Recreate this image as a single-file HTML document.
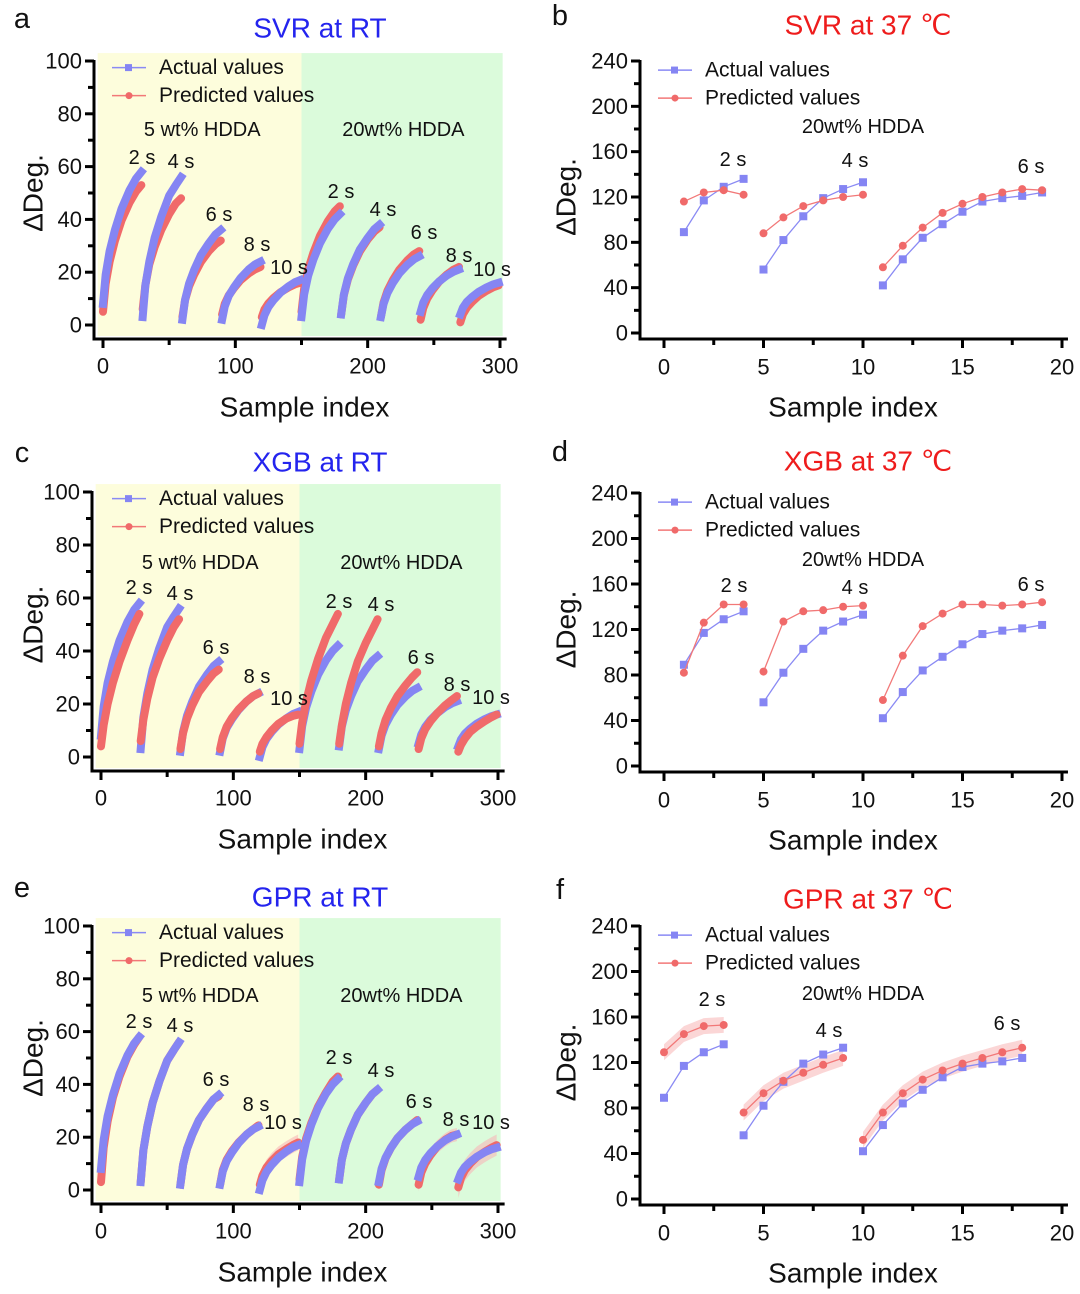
<!DOCTYPE html>
<html><head><meta charset="utf-8"><style>
body{margin:0;background:#fff}
svg{display:block;font-family:"Liberation Sans",sans-serif}
</style></head><body>
<svg id="fig" width="1080" height="1294" viewBox="0 0 1080 1294" xmlns="http://www.w3.org/2000/svg"></svg>
<script>
// ---- Left panels (RT) data: 10 segments, keypoint offsets within each 30-sample segment
const segOffsets = [0,2,5,9,14,20,25,29];
const actualRT = [
 [8,19,28,36,44,51,55.5,58],[3,15,24,33,41,49,53,56],[2,9.5,15.6,21,26.5,31,34.3,36],
 [2,7,11,14.3,17.8,21,23,24],[0,3.7,6.8,9.5,12.2,14.6,16.2,17],[3,11.6,18.6,24.8,31,36.5,40,42],
 [4,11.5,17.6,23,28.5,33,36.3,38],[3,8,12.2,15.9,19.6,22.8,24.9,26],[5,8.5,11.4,14,16.5,18.8,20.2,21],
 [4,6.6,8.8,10.7,12.6,14.3,15.4,16]];
const svrPredRT = [
 [5,15.6,24,31.9,39.6,46.3,50.6,53],[6,15,23,29.5,36,42,46,48],[3,9.4,14.6,19.2,23.9,28,30.6,32],
 [4,8,11.2,14,17,19.5,21.1,22],[3,5.9,8.2,10.3,12.4,14.2,15.4,16],[5,13.8,21,27.4,33.8,39.4,43,45],
 [4,11.3,17.2,22.5,27.8,32.4,35.4,37],[3,8.5,13,17,21,24.5,26.8,28],[2,6.4,10,13.2,16.4,19.2,21,22],
 [1,4.1,6.6,8.8,11.1,13,14.3,15]];
const xgbPredRT = [
 [4,12,20,28,36,44,50,54],[6,14,22,30,37,44,49,52],[3,9,14.5,19.5,24.5,28.5,31.5,33],
 [3,7.5,11.5,14.8,18,21,23,24],[2,5,7.5,10,12.5,14.5,15.5,16],[5,13,21,29,37,45,50,54],
 [5,12,20,28,36,43,48,52],[4,9,14,18.5,23,27,30,32],[3,7,10.5,13.5,16.5,19.5,21.5,23],
 [2,4.5,7,9.5,11.5,13.5,15,16]];
const gprPredRT = [
 [3,16,26,35,43,50.5,55,58],[3,15,24,33,41,49,53,56],[2,9.5,15.6,21,26.5,31,34.3,35.5],
 [2,7.5,11.5,14.8,18,21,23,24.5],[2,5.5,8.5,11,13.5,15.5,17,18],[4,12.5,19.5,25.5,31.5,37,41,43],
 [4,11.5,17.6,23,28.5,33,36.3,38],[2,7.5,12,15.9,19.6,22.8,24.9,26.5],[2,6.5,10,13.2,16.4,19,20.5,21],
 [1,4.5,7.5,10,12.5,14.5,16,17]];
const gprBandRT = [1,1,1,1.5,3,1,1,1.5,2.5,4];
const xTicksRT = [0,100,200,300];
const yTicksRT = [0,20,40,60,80,100];

// ---- Right panels (37 °C) data
const xIdx37 = [[1,2,3,4],[5,6,7,8,9,10],[11,12,13,14,15,16,17,18,19]];
const xIdxGpr37 = [[0,1,2,3],[4,5,6,7,8,9],[10,11,12,13,14,15,16,17,18]];
const actual37 = [[89,117,129,136],[56,82,103,119,127,133],[42,65,84,96,107,116,119,121,124]];
const svrPred37 = [[116,124,126,122],[88,102,112,117,120,122],[58,77,93,106,114,120,124,127,126]];
const xgbPred37 = [[82,126,142,142],[83,127,136,137,140,141],[58,97,123,134,142,142,141,142,144]];
const gprPred37 = [[129,145,152,153],[76,93,104,111,118,124],[52,76,93,105,113,119,124,129,133]];
const gprBand37 = 7;
const xTicks37 = [0,5,10,15,20];
const yTicks37 = [0,40,80,120,160,200,240];

const NS="http://www.w3.org/2000/svg";
const fig=document.getElementById('fig');
function mk(tag,attrs,parent,txt){const e=document.createElementNS(NS,tag);for(const k in attrs)e.setAttribute(k,attrs[k]);if(txt!==undefined)e.textContent=txt;(parent||fig).appendChild(e);return e;}
const BLUE='#8a8af4', RED='#f27878', BLUEM='#8585f3', REDM='#f06a6a';

function text(g,x,y,s,size,extra){
  return mk('text',Object.assign({x:x,y:y,'font-size':size,'text-anchor':'middle','dominant-baseline':'central',fill:'#111'},extra||{}),g,s);
}
function legend(g,x,y){
  const l1=mk('g',{},g);
  
  
  mk('line',{x1:x,y1:y,x2:x+34,y2:y,stroke:BLUE,'stroke-width':1.5},l1);
  mk('rect',{x:x+13,y:y-3.5,width:7,height:7,fill:BLUEM},l1);
  text(l1,x+47,y,'Actual values',21,{'text-anchor':'start'});
  const l2=mk('g',{},g);
  
  
  mk('line',{x1:x,y1:y+28,x2:x+34,y2:y+28,stroke:RED,'stroke-width':1.5},l2);
  mk('circle',{cx:x+17,cy:y+28,r:3.5,fill:REDM},l2);
  text(l2,x+47,y+28,'Predicted values',21,{'text-anchor':'start'});
}

function leftPanel(o){
  const g=mk('g',{});  
  const X=v=>o.x0+(v/300)*(o.x300-o.x0), Y=v=>o.y0-(v/100)*(o.y0-o.y100);
  const bg=mk('g',{},g);  
  mk('rect',{x:X(-4),y:Y(103),width:X(150)-X(-4),height:o.axY-3-Y(103),fill:'#fdfddc'},bg);
  mk('rect',{x:X(150),y:Y(103),width:X(302)-X(150),height:o.axY-3-Y(103),fill:'#dbfbdb'},bg);
  if(o.band){
    o.pred.forEach((seg,i)=>{
      let up=seg.map((v,j)=>X(i*30+segOffsets[j])+','+Y(v+o.band[i]));
      let dn=seg.map((v,j)=>X(i*30+segOffsets[j])+','+Y(v-o.band[i])).reverse();
      const p=mk('polygon',{points:up.concat(dn).join(' '),fill:'#f7b8b8','fill-opacity':0.6},g);
      
      
    });
  }
  const drawS=(data,col,nm)=>{
    data.forEach((seg,i)=>{
      const pts=seg.map((v,j)=>X(i*30+segOffsets[j])+','+Y(v)).join(' ');
      const pl=mk('polyline',{points:pts,fill:'none',stroke:col,'stroke-width':8,'stroke-linecap':nm=='actual'?'square':'round','stroke-linejoin':'round'},g);
      
      
    });
  };
  if(o.predTop){drawS(o.actual,BLUEM,'actual');drawS(o.pred,REDM,'predicted');}
  else{drawS(o.pred,REDM,'predicted');drawS(o.actual,BLUEM,'actual');}
  const ax=mk('g',{stroke:'#000','stroke-width':3},g);  
  mk('line',{x1:o.axX,y1:Y(100)-1,x2:o.axX,y2:o.axY+1.5},ax);
  mk('line',{x1:o.axX-1.5,y1:o.axY,x2:X(305),y2:o.axY},ax);
  for(let v=0;v<=100;v+=10){mk('line',{x1:o.axX-(v%20==0?9:6),y1:Y(v),x2:o.axX,y2:Y(v)},ax);}
  for(let v=0;v<=300;v+=50){mk('line',{x1:X(v),y1:o.axY,x2:X(v),y2:o.axY+(v%100==0?9:6)},ax);}
  yTicksRT.forEach(v=>{const t=text(g,o.axX-12,Y(v),String(v),22,{'text-anchor':'end'});});
  xTicksRT.forEach(v=>{const t=text(g,X(v),o.axY+27,String(v),22);});
  const xt=text(g,(o.x0+o.x300)/2+3,o.axY+68,'Sample index',28);  
  const yt=text(g,0,0,'ΔDeg.',28,{transform:`translate(33,${(o.y0+o.y100)/2}) rotate(-90)`});  
  const tt=text(g,o.titleX,o.titleY,o.title,28,{fill:'#2424ee'});  
  const lt=text(g,22,o.titleY-9,o.letter,29);  
  legend(g,112,Y(97.5));
  const h1=text(g,X(75),o.hy,'5 wt% HDDA',20); 
  const h2=text(g,X(227),o.hy,'20wt% HDDA',20); 
  o.labels.forEach(l=>{const t=text(g,l[0],l[1],l[2],20);});
}

function rightPanel(o){
  const g=mk('g',{});  
  const X=v=>o.x0+(v/20)*(o.x20-o.x0), Y=v=>o.y0-(v/240)*(o.y0-o.y240);
  if(o.band){
    o.pred.forEach((seg,i)=>{
      let up=seg.map((v,j)=>X(o.xs[i][j])+','+Y(v+o.band));
      let dn=seg.map((v,j)=>X(o.xs[i][j])+','+Y(v-o.band)).reverse();
      const p=mk('polygon',{points:up.concat(dn).join(' '),fill:'#f9c4c4','fill-opacity':0.7},g);
      
      
    });
  }
  o.actual.forEach((seg,i)=>{
    const pl=mk('polyline',{points:seg.map((v,j)=>X(o.xs[i][j])+','+Y(v)).join(' '),fill:'none',stroke:BLUE,'stroke-width':1.3},g);
    
    
    seg.forEach((v,j)=>{const r=mk('rect',{x:X(o.xs[i][j])-4,y:Y(v)-4,width:8,height:8,fill:BLUEM},g);
      
      });
  });
  o.pred.forEach((seg,i)=>{
    const pl=mk('polyline',{points:seg.map((v,j)=>X(o.xs[i][j])+','+Y(v)).join(' '),fill:'none',stroke:RED,'stroke-width':1.3},g);
    
    
    seg.forEach((v,j)=>{const c=mk('circle',{cx:X(o.xs[i][j]),cy:Y(v),r:4,fill:REDM},g);
      
      });
  });
  const ax=mk('g',{stroke:'#000','stroke-width':3},g);  
  mk('line',{x1:o.axX,y1:Y(240)-1,x2:o.axX,y2:o.axY+1.5},ax);
  mk('line',{x1:o.axX-1.5,y1:o.axY,x2:X(20.3),y2:o.axY},ax);
  for(let v=0;v<=240;v+=20){mk('line',{x1:o.axX-(v%40==0?9:6),y1:Y(v),x2:o.axX,y2:Y(v)},ax);}
  for(let v=0;v<=20;v+=2.5){mk('line',{x1:X(v),y1:o.axY,x2:X(v),y2:o.axY+(v%5==0?9:6)},ax);}
  yTicks37.forEach(v=>{const t=text(g,o.axX-12,Y(v),String(v),22,{'text-anchor':'end'});});
  xTicks37.forEach(v=>{const t=text(g,X(v),o.axY+28,String(v),22);});
  const xt=text(g,(o.x0+o.x20)/2-10,o.axY+68,'Sample index',28);  
  const yt=text(g,0,0,'ΔDeg.',28,{transform:`translate(566,${(o.y0+o.y240)/2}) rotate(-90)`});  
  const tt=text(g,o.titleX,o.titleY,o.title,28,{fill:'#ee1c1c'});  
  const lt=text(g,560,o.titleY-9,o.letter,29);  
  legend(g,658,Y(232));
  const h=text(g,863,o.hy,'20wt% HDDA',20); 
  o.labels.forEach(l=>{const t=text(g,l[0],l[1],l[2],20);});
}

leftPanel({name:'panel-a-svr-rt',letter:'a',title:'SVR at RT',titleX:320,titleY:28,x0:103,x300:500,y0:325,y100:61,axX:94,axY:339,hy:130,
  actual:actualRT,pred:svrPredRT,predTop:false,
  labels:[[142,158,'2 s'],[181,162,'4 s'],[219,215,'6 s'],[257,245,'8 s'],[289,268,'10 s'],[341,192,'2 s'],[383,210,'4 s'],[424,233,'6 s'],[459,256,'8 s'],[492,270,'10 s']]});
rightPanel({name:'panel-b-svr-37',letter:'b',title:'SVR at 37 ℃',titleX:868,titleY:25,x0:664,x20:1062,y0:333,y240:61,axX:640,axY:339,hy:127,
  xs:xIdx37,actual:actual37,pred:svrPred37,
  labels:[[733,160,'2 s'],[855,161,'4 s'],[1031,167,'6 s']]});
leftPanel({name:'panel-c-xgb-rt',letter:'c',title:'XGB at RT',titleX:320,titleY:462,x0:101,x300:498,y0:757,y100:492,axX:92,axY:771,hy:563,
  actual:actualRT,pred:xgbPredRT,predTop:true,
  labels:[[139,588,'2 s'],[180,594,'4 s'],[216,648,'6 s'],[257,677,'8 s'],[289,699,'10 s'],[339,602,'2 s'],[381,605,'4 s'],[421,658,'6 s'],[457,685,'8 s'],[491,698,'10 s']]});
rightPanel({name:'panel-d-xgb-37',letter:'d',title:'XGB at 37 ℃',titleX:868,titleY:461,x0:664,x20:1062,y0:766,y240:493,axX:640,axY:772,hy:560,
  xs:xIdx37,actual:actual37,pred:xgbPred37,
  labels:[[734,586,'2 s'],[855,588,'4 s'],[1031,585,'6 s']]});
leftPanel({name:'panel-e-gpr-rt',letter:'e',title:'GPR at RT',titleX:320,titleY:897,x0:101,x300:498,y0:1190,y100:926,axX:92,axY:1204,hy:996,
  actual:actualRT,pred:gprPredRT,predTop:false,band:gprBandRT,
  labels:[[139,1022,'2 s'],[180,1026,'4 s'],[216,1080,'6 s'],[256,1105,'8 s'],[283,1123,'10 s'],[339,1058,'2 s'],[381,1071,'4 s'],[419,1102,'6 s'],[456,1120,'8 s'],[491,1123,'10 s']]});
rightPanel({name:'panel-f-gpr-37',letter:'f',title:'GPR at 37 ℃',titleX:868,titleY:899,x0:664,x20:1062,y0:1199,y240:926,axX:640,axY:1205,hy:994,
  xs:xIdxGpr37,actual:actual37,pred:gprPred37,band:gprBand37,
  labels:[[712,1000,'2 s'],[829,1031,'4 s'],[1007,1024,'6 s']]});
</script>
</body></html>
